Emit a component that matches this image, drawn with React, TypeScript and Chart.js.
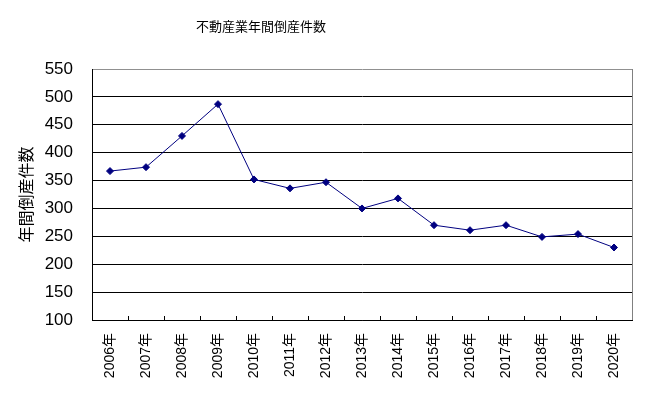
import React, { useEffect, useRef } from "react";
import { Chart, registerables } from "chart.js";

Chart.register(...registerables);

const chartTitle = "不動産業年間倒産件数";
const yAxisTitle = "年間倒産件数";
const categories = [
  "2006年", "2007年", "2008年", "2009年", "2010年", "2011年", "2012年", "2013年",
  "2014年", "2015年", "2016年", "2017年", "2018年", "2019年", "2020年",
];
const bankruptcies = [367, 374, 430, 487, 352, 336, 347, 300, 318, 270, 261, 270, 249, 254, 230];
const yMin = 100;
const yMax = 550;
const yStep = 50;

const FONT = '"Liberation Sans", "Noto Sans CJK JP", sans-serif';
const CJK = '"Noto Sans CJK JP", "Liberation Sans", sans-serif';

const decorPlugin = {
  id: "decor",
  afterDraw(chart: any) {
    const ctx = chart.ctx;
    const x = chart.scales.x;
    const area = chart.chartArea;
    ctx.save();
    // title
    ctx.font = `13px ${CJK}`;
    ctx.fillStyle = "#000";
    ctx.textAlign = "center";
    ctx.textBaseline = "middle";
    ctx.fillText(chartTitle, 261, 26);
    // right border
    ctx.strokeStyle = "#808080";
    ctx.lineWidth = 1;
    ctx.beginPath();
    ctx.moveTo(Math.round(area.right) + 0.5, area.top);
    ctx.lineTo(Math.round(area.right) + 0.5, area.bottom);
    ctx.stroke();
    // inside tick marks on x axis at category boundaries
    ctx.strokeStyle = "#000";
    const n = categories.length;
    const step = (x.right - x.left) / n;
    ctx.beginPath();
    for (let i = 1; i < n; i++) {
      const px = Math.round(x.left + i * step) + 0.5;
      ctx.moveTo(px, area.bottom - 4);
      ctx.lineTo(px, area.bottom);
    }
    ctx.stroke();
    ctx.restore();
  },
};

export default function App() {
  const ref = useRef<HTMLCanvasElement>(null);
  useEffect(() => {
    document.body.style.margin = "0";
    const chart = new Chart(ref.current as HTMLCanvasElement, {
      type: "line",
      data: {
        labels: categories,
        datasets: [
          {
            data: bankruptcies,
            borderColor: "#000080",
            backgroundColor: "#000080",
            borderWidth: 1,
            pointStyle: "rectRot",
            pointRadius: 3.5,
            pointBorderWidth: 1,
            tension: 0,
          },
        ],
      },
      options: {
        responsive: false,
        animation: false,
        devicePixelRatio: 1,
        layout: { padding: { top: 69, right: 17, left: 0, bottom: 0 } },
        plugins: {
          legend: { display: false },
          title: { display: false },
          tooltip: { enabled: false },
        },
        scales: {
          x: {
            offset: true,
            grid: { display: false, drawTicks: false },
            border: { display: true, color: "#000", width: 1 },
            ticks: {
              maxRotation: 90,
              minRotation: 90,
              autoSkip: false,
              padding: 13,
              color: "#000",
              font: { family: FONT, size: 14 },
            },
            afterFit: (s: any) => {
              s.height = 77;
            },
          },
          y: {
            min: yMin,
            max: yMax,
            grid: {
              drawTicks: false,
              color: (c: any) => (c.tick && c.tick.value === yMax ? "#909090" : "#000"),
              lineWidth: 1,
            },
            border: { display: true, color: "#000", width: 1 },
            ticks: {
              stepSize: yStep,
              padding: 19,
              color: "#000",
              font: { family: FONT, size: 17 },
            },
            title: {
              display: true,
              text: yAxisTitle,
              color: "#000",
              padding: { top: 16, bottom: 0 },
              font: { family: CJK, size: 16 },
            },
            afterFit: (s: any) => {
              s.width = 92;
            },
          },
        },
      },
      plugins: [decorPlugin],
    });
    return () => chart.destroy();
  }, []);
  return (
    <div style={{ position: "absolute", left: 0, top: 0, width: 649, height: 397, background: "#fff" }}>
      <canvas ref={ref} width={649} height={397} />
    </div>
  );
}
